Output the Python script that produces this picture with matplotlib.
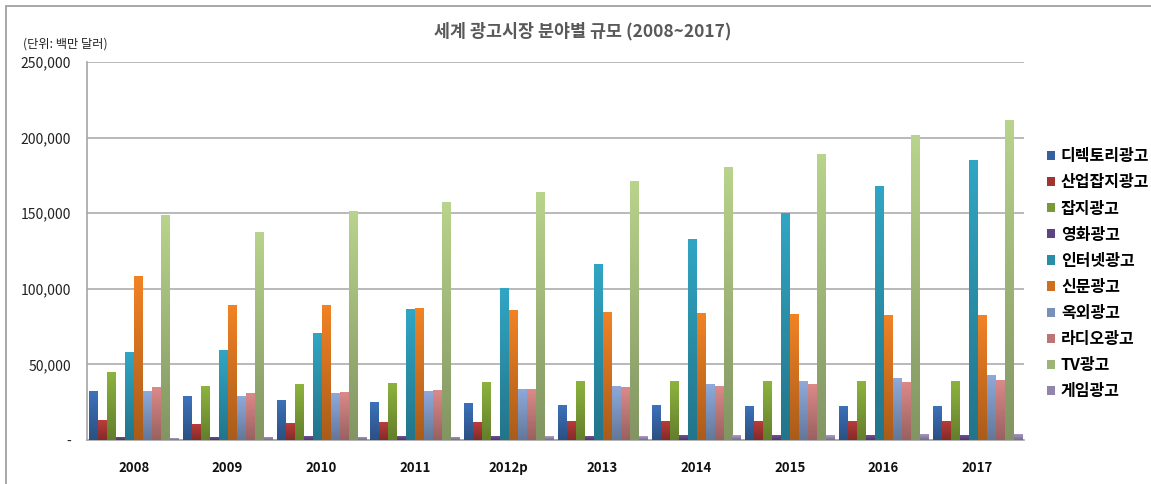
import numpy as np
import matplotlib
matplotlib.use("Agg")
import matplotlib.pyplot as plt
from matplotlib.colors import LinearSegmentedColormap, to_rgb
from matplotlib.patches import Rectangle, Patch
from matplotlib.ticker import FuncFormatter

plt.rcParams["font.family"] = ["Noto Sans CJK KR", "DejaVu Sans"]

# ── 데이터 (단위: 백만 달러) ─────────────────────────────
YEARS = ["2008", "2009", "2010", "2011", "2012p", "2013", "2014", "2015", "2016", "2017"]

directory = [32400, 29000, 26500, 25100, 24500, 23100, 23100, 22500, 22500, 22500]
ind_mag   = [13200, 10600, 11200, 11900, 11900, 12600, 12600, 12600, 12600, 12600]
magazine  = [45000, 35700, 37000, 37700, 38400, 39000, 39000, 39000, 39000, 39000]
movie     = [2000, 2000, 2600, 2600, 2600, 2600, 3300, 3300, 3300, 3300]
internet  = [58200, 59500, 70800, 86600, 100500, 116500, 133000, 150000, 168000, 185200]
newspaper = [108500, 89300, 89300, 87300, 86000, 84700, 84000, 83300, 82700, 82700]
outdoor   = [32400, 29000, 31000, 32400, 33700, 35700, 37000, 39000, 41000, 43000]
radio     = [35000, 31000, 31700, 33000, 33700, 35000, 35700, 37000, 38400, 39700]
tv        = [148900, 137600, 151500, 157500, 164000, 171400, 180600, 189200, 201800, 211500]
game      = [1100, 2000, 2000, 2000, 2600, 2600, 3300, 3300, 4000, 4000]

SERIES = [
    ("디렉토리광고", directory, "#3d72bb"),
    ("산업잡지광고", ind_mag,   "#bb3d3a"),
    ("잡지광고",     magazine,  "#8db43e"),
    ("영화광고",     movie,     "#6f4f98"),
    ("인터넷광고",   internet,  "#31a6c4"),
    ("신문광고",     newspaper, "#f28325"),
    ("옥외광고",     outdoor,   "#8eaadb"),
    ("라디오광고",   radio,     "#db8a89"),
    ("TV광고",       tv,        "#b9d48c"),
    ("게임광고",     game,      "#ac9cc8"),
]

# ── 그림 ──────────────────────────────────────────────
W, H = 1151, 484
fig = plt.figure(figsize=(W / 100, H / 100), dpi=100)
ax = fig.add_axes([87 / W, 44 / H, (1024 - 87) / W, (440 - 62) / H])

x = np.arange(len(YEARS))
slot, bw = 0.096, 0.086
grad = np.linspace(0, 1, 128).reshape(-1, 1)

for i, (name, vals, col) in enumerate(SERIES):
    pos = x + (i - 4.5) * slot
    bars = ax.bar(pos, vals, width=bw, color=col, zorder=2, linewidth=0)
    base = np.array(to_rgb(col))
    cmap = LinearSegmentedColormap.from_list(name, [base * 0.70, base])
    for b in bars:
        x0, w, h = b.get_x(), b.get_width(), b.get_height()
        im = ax.imshow(grad, extent=[x0, x0 + w, 0, h], origin="lower",
                       cmap=cmap, aspect="auto", zorder=3)
        im.set_clip_path(b)

ax.set_xlim(-0.5, len(YEARS) - 0.5)
ax.set_ylim(0, 250000)
ax.set_yticks(np.arange(0, 250001, 50000))
ax.yaxis.set_major_formatter(FuncFormatter(lambda v, p: "-" if v == 0 else f"{v:,.0f}"))
ax.tick_params(axis="y", length=0, pad=11.5, labelsize=10, labelcolor="#222222")
ax.set_xticks(x)
ax.set_xticklabels(YEARS, fontsize=9.5, fontweight="bold", color="#111111")
ax.tick_params(axis="x", length=0, pad=15)

ax.grid(axis="y", color="#a6a6a6", linewidth=1.1, zorder=0)
ax.set_axisbelow(True)
for s in ["top", "right"]:
    ax.spines[s].set_visible(False)
ax.spines["left"].set_color("#a6a6a6")
ax.spines["bottom"].set_color("#a6a6a6")
ax.spines["left"].set_linewidth(1.2)
ax.spines["bottom"].set_linewidth(1.2)

# 범례
handles = [Patch(facecolor=np.array(to_rgb(c)) * 0.85, edgecolor="none") for _, _, c in SERIES]
fig.legend(handles, [s[0] for s in SERIES], loc="upper left",
           bbox_to_anchor=(1041 / W, 1 - 142 / H), frameon=False,
           prop={"size": 11.5, "weight": "bold"}, handlelength=0.5, handleheight=0.5,
           handletextpad=0.35, labelspacing=0.63, borderaxespad=0)

# 제목, 단위
fig.text(583 / W, 1 - 31 / H, "세계 광고시장 분야별 규모 (2008~2017)", ha="center", va="center",
         fontsize=12.5, fontweight="bold", color="#595959")
fig.text(23 / W, 1 - 44 / H, "(단위: 백만 달러)", ha="left", va="center",
         fontsize=8.8, color="#222222")

# 바깥 테두리
fig.patches.append(Rectangle((6 / W, -0.1), 1.2, 1 - 6 / H + 0.1, transform=fig.transFigure,
                             fill=False, edgecolor="#a0a0a0", linewidth=1.3))

fig.savefig("out.png", dpi=100)
